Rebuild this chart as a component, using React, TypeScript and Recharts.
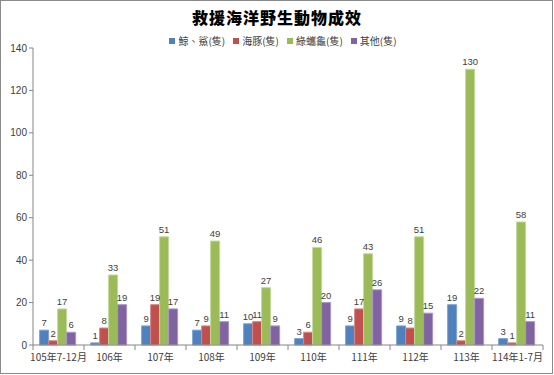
import { BarChart, Bar, XAxis, YAxis, LabelList } from "recharts";

const categories = ["105年7-12月", "106年", "107年", "108年", "109年", "110年", "111年", "112年", "113年", "114年1-7月"];
const whaleShark = [7, 1, 9, 7, 10, 3, 9, 9, 19, 3];
const dolphin = [2, 8, 19, 9, 11, 6, 17, 8, 2, 1];
const greenTurtle = [17, 33, 51, 49, 27, 46, 43, 51, 130, 58];
const others = [6, 19, 17, 11, 9, 20, 26, 15, 22, 11];
const yTicks = [0, 20, 40, 60, 80, 100, 120, 140];

const seriesDefs = [
  { key: "whaleShark", name: "鯨、鯊(隻)", color: "#4F81BD", edge: "#7fa2d0" },
  { key: "dolphin", name: "海豚(隻)", color: "#C0504D", edge: "#d58583" },
  { key: "greenTurtle", name: "綠蠵龜(隻)", color: "#9BBB59", edge: "#c3d79a" },
  { key: "others", name: "其他(隻)", color: "#8064A2", edge: "#a995c2" },
];

const data = categories.map((c, i) => ({
  name: c,
  whaleShark: whaleShark[i],
  dolphin: dolphin[i],
  greenTurtle: greenTurtle[i],
  others: others[i],
}));

const font = "'Noto Sans CJK TC', 'Noto Sans', sans-serif";
const numFont = "'Liberation Sans', 'Noto Sans', sans-serif";

function CategoryTick(props: any) {
  const { x, y, payload, index } = props;
  const half = payload.offset || 0;
  const last = index === categories.length - 1;
  return (
    <g>
      <line x1={x - half} y1={y - 8} x2={x - half} y2={y - 3} stroke="#868686" />
      {last && <line x1={x + half} y1={y - 8} x2={x + half} y2={y - 3} stroke="#868686" />}
      <text x={x} y={y + 8} textAnchor="middle" fontSize={10} fill="#404040" fontFamily={font}>
        {payload.value}
      </text>
    </g>
  );
}

export default function App() {
  return (
    <div style={{ position: "absolute", left: 0, top: 0, width: 554, height: 375, background: "#fff", fontFamily: font }}>
      <div
        style={{
          position: "absolute",
          left: 0,
          top: 0,
          width: 553,
          height: 374,
          boxSizing: "border-box",
          border: "1px solid #8a8a8a",
        }}
      />
      <div
        style={{
          position: "absolute",
          left: 0,
          width: 554,
          top: 7,
          textAlign: "center",
          fontSize: 16,
          fontWeight: 900,
          letterSpacing: 1,
          color: "#000",
          lineHeight: "20px",
        }}
      >
        救援海洋野生動物成效
      </div>
      <div
        style={{
          position: "absolute",
          left: 0,
          width: 554,
          top: 34,
          display: "flex",
          justifyContent: "center",
          fontSize: 10,
          color: "#404040",
          lineHeight: "14px",
          paddingLeft: 10,
        }}
      >
        {seriesDefs.map((s) => (
          <div key={s.key} style={{ display: "flex", alignItems: "center", marginRight: 8 }}>
            <span style={{ display: "inline-block", width: 6, height: 6, background: s.color, marginRight: 3 }} />
            <span>{s.name}</span>
          </div>
        ))}
      </div>
      <div style={{ position: "absolute", left: 0, top: 0 }}>
        <BarChart
          width={554}
          height={375}
          data={data}
          margin={{ top: 48, right: 11, bottom: 0, left: 0 }}
          barCategoryGap="13%"
          barGap={0}
        >
          <YAxis
            width={33}
            domain={[0, 140]}
            ticks={yTicks}
            interval={0}
            tick={{ fontSize: 10, fill: "#404040", fontFamily: numFont }}
            tickSize={4}
            axisLine={{ stroke: "#868686" }}
            tickLine={{ stroke: "#868686" }}
          />
          <XAxis
            dataKey="name"
            height={30}
            interval={0}
            tick={<CategoryTick />}
            tickLine={false}
            axisLine={{ stroke: "#868686" }}
          />
          {seriesDefs.map((s) => (
            <Bar
              key={s.key}
              dataKey={s.key}
              name={s.name}
              fill={s.color}
              stroke={s.edge}
              strokeWidth={1}
              isAnimationActive={false}
            >
              <LabelList dataKey={s.key} position="top" offset={4} fontSize={9.5} fill="#404040" fontFamily={numFont} />
            </Bar>
          ))}
        </BarChart>
      </div>
    </div>
  );
}
